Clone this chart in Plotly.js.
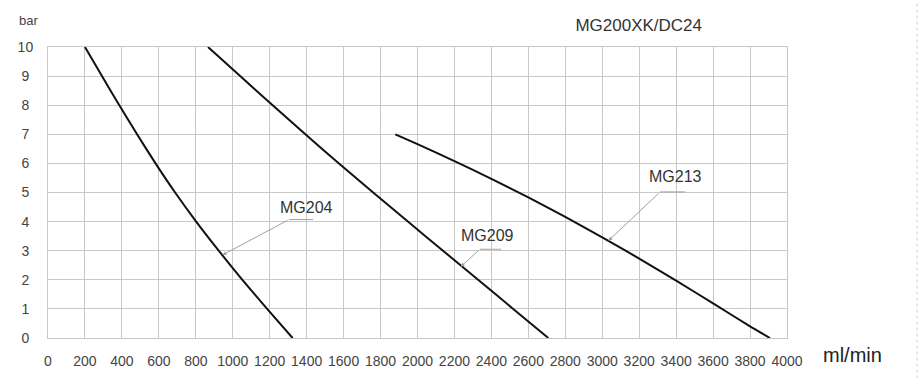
<!DOCTYPE html>
<html>
<head>
<meta charset="utf-8">
<script src="https://cdn.plot.ly/plotly-3.0.1.min.js"></script>
<style>
  html, body { margin: 0; padding: 0; background: #fff; }
  #chart { width: 923px; height: 378px; }
</style>
</head>
<body>
<div id="chart"></div>
<script>
// ---- data ----
const pressureLevels = [10, 9, 8, 7, 6, 5, 4, 3, 2, 1, 0];

const mg204Flow = [200, 292, 386, 482, 582, 688, 802, 924, 1052, 1186, 1324];
const mg204Bar  = pressureLevels;

const mg209Flow = [866, 1040, 1216, 1393, 1575, 1760, 1948, 2138, 2328, 2518, 2708];
const mg209Bar  = pressureLevels;

const mg213Flow = [1880, 2000, 2200, 2400, 2600, 2800, 3000, 3200, 3400, 3600, 3800, 3908];
const mg213Bar  = [7.0, 6.66, 6.08, 5.47, 4.83, 4.16, 3.46, 2.73, 1.97, 1.19, 0.40, 0];

const xTickVals = [0,200,400,600,800,1000,1200,1400,1600,1800,2000,2200,2400,2600,2800,3000,3200,3400,3600,3800,4000];
const xTickText = xTickVals.map(String);
const yTickVals = [0,1,2,3,4,5,6,7,8,9,10];
const yTickText = ['0\u00a0','1\u00a0','2\u00a0','3\u00a0','4\u00a0','5\u00a0','6\u00a0','7\u00a0','8\u00a0','9\u00a0','10'];

const seriesNames = ['MG204', 'MG209', 'MG213'];
// label centre, underline (from, to, at) and arrow tip, in data units
const labelPos   = [[1401, 4.48], [2381, 3.52], [3394, 5.54]];
const underlines = [[1305, 1435, 4.07], [2338, 2453, 3.05], [3313, 3449, 5.02]];
const arrowTips  = [[944, 2.85], [2234, 2.45], [3033, 3.34]];

const chartTitle = 'MG200XK/DC24';
const xUnit = 'ml/min';
const yUnit = 'bar';

// ---- drawing ----
const FONT = '"Liberation Sans", Arial, sans-serif';
const lineStyle = { color: '#111', width: 2, shape: 'spline', smoothing: 0.5 };

const traces = [
  { x: mg204Flow, y: mg204Bar, name: seriesNames[0] },
  { x: mg209Flow, y: mg209Bar, name: seriesNames[1] },
  { x: mg213Flow, y: mg213Bar, name: seriesNames[2] }
].map(t => Object.assign(t, { type: 'scatter', mode: 'lines', line: lineStyle, hoverinfo: 'skip' }));

const annotations = [];
const shapes = [];
seriesNames.forEach((n, i) => {
  annotations.push({
    x: labelPos[i][0], y: labelPos[i][1], xref: 'x', yref: 'y',
    text: n, showarrow: false, xanchor: 'center', yanchor: 'middle',
    font: { family: FONT, size: 16, color: '#333' }
  });
  annotations.push({
    x: arrowTips[i][0], y: arrowTips[i][1], xref: 'x', yref: 'y',
    ax: underlines[i][0], ay: underlines[i][2], axref: 'x', ayref: 'y',
    text: '', showarrow: true, arrowhead: 2, arrowsize: 0.8, arrowwidth: 1, arrowcolor: '#a0a0a0', standoff: 0
  });
  shapes.push({
    type: 'line', xref: 'x', yref: 'y',
    x0: underlines[i][0], x1: underlines[i][1], y0: underlines[i][2], y1: underlines[i][2],
    line: { color: '#a0a0a0', width: 1 }
  });
});

annotations.push({
  x: 1.089, y: -0.06, xref: 'paper', yref: 'paper', text: xUnit, showarrow: false,
  xanchor: 'center', yanchor: 'middle', font: { family: FONT, size: 20, color: '#222' }
});
annotations.push({
  x: -0.027, y: 1.0917, xref: 'paper', yref: 'paper', text: yUnit, showarrow: false,
  xanchor: 'center', yanchor: 'middle', font: { family: FONT, size: 13, color: '#444' }
});

// faint page-edge dotted line seen at the right of the reference
shapes.push({
  type: 'line', xref: 'paper', yref: 'paper', x0: 1.176, x1: 1.176, y0: -0.16, y1: 1.16,
  line: { color: '#d4d4d4', width: 1, dash: 'dot' }
});

const gridColor = '#c8c8c8';
const layout = {
  width: 923, height: 378,
  margin: { l: 48, r: 136, t: 47, b: 40 },
  paper_bgcolor: '#fff', plot_bgcolor: '#fff',
  showlegend: false,
  title: {
    text: chartTitle, x: 0.692, xref: 'container', xanchor: 'center',
    y: 0.934, yref: 'container', yanchor: 'middle',
    font: { family: FONT, size: 17, color: '#333' }
  },
  xaxis: {
    range: [0, 4000], tickmode: 'array', tickvals: xTickVals, ticktext: xTickText,
    showgrid: true, gridcolor: gridColor, gridwidth: 1, zeroline: false,
    showline: true, linecolor: gridColor, linewidth: 1, mirror: true,
    ticks: '', ticklabelstandoff: 10,
    tickfont: { family: FONT, size: 14, color: '#444' }, fixedrange: true
  },
  yaxis: {
    range: [0, 10], tickmode: 'array', tickvals: yTickVals, ticktext: yTickText,
    showgrid: true, gridcolor: gridColor, gridwidth: 1, zeroline: false,
    showline: true, linecolor: gridColor, linewidth: 1, mirror: true,
    ticks: '', ticklabelstandoff: 11,
    tickfont: { family: FONT, size: 14, color: '#444' }, fixedrange: true
  },
  annotations: annotations,
  shapes: shapes
};

Plotly.newPlot('chart', traces, layout, { staticPlot: true, displayModeBar: false });
</script>
</body>
</html>
